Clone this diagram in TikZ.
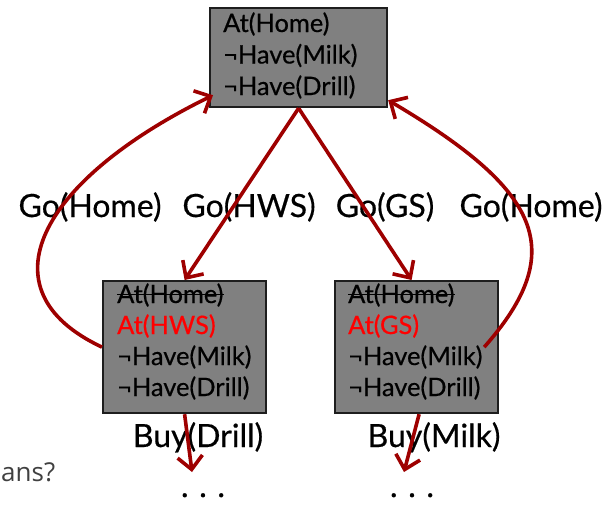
\documentclass[tikz,border=0pt]{standalone}
\usepackage{fontspec}
\setmainfont{Lato}[FakeBold=0.5]
\newfontfamily\notefont{Open Sans}
\usetikzlibrary{arrows.meta,calc}

\definecolor{actred}{RGB}{158,0,0}
\definecolor{boxgray}{RGB}{128,128,128}
\definecolor{boxedge}{RGB}{30,30,30}
\definecolor{notegray}{RGB}{64,64,64}

\tikzset{
  state/.style={draw=boxedge, line width=2.2pt, fill=boxgray, inner sep=0pt,
                anchor=north west},
  fact/.style={anchor=base west, inner sep=0pt, font=\fontsize{25.4}{28}\selectfont},
  actlabel/.style={anchor=base, inner sep=0pt, font=\fontsize{32}{36}\selectfont},
  act/.style={draw=actred, line width=3.6pt,
              -{Straight Barb[length=13pt,width=25pt,line width=3.6pt]}},
  strike/.style={draw=black, line width=1.5pt},
}

\begin{document}
\begin{tikzpicture}[x=1pt,y=-1pt]
\useasboundingbox (0,0) rectangle (609,504);

% states
\node[state, minimum width=177pt, minimum height=99pt] (top) at (209,7) {};
\node[state, minimum width=163pt, minimum height=132pt] (lbox) at (102,280) {};
\node[state, minimum width=163pt, minimum height=132pt] (rbox) at (334,280) {};

% initial state facts
\node[fact] (t1) at (223,32) {At(Home)};
\node[fact] (t2) at (223,63.5) {¬Have(Milk)};
\node[fact] (t3) at (223,95) {¬Have(Drill)};

% state after Go(HWS)
\node[fact] (l1) at (117,303) {At(Home)};
\node[fact, text=red] (l2) at (117,334) {At(HWS)};
\node[fact] (l3) at (117,365) {¬Have(Milk)};
\node[fact] (l4) at (117,396) {¬Have(Drill)};

% state after Go(GS)
\node[fact] (r1) at (348,303) {At(Home)};
\node[fact, text=red] (r2) at (348,334) {At(GS)};
\node[fact] (r3) at (348,365) {¬Have(Milk)};
\node[fact] (r4) at (348,396) {¬Have(Drill)};

% deleted facts are struck out
\draw[strike] ($(l1.base west)+(0,-8.5)$) -- ($(l1.base east)+(0,-8.5)$);
\draw[strike] ($(r1.base west)+(0,-8.5)$) -- ($(r1.base east)+(0,-8.5)$);

% action labels
\node[actlabel] (gh1) at (90,217) {Go(Home)};
\node[actlabel] (ghws) at (249,217) {Go(HWS)};
\node[actlabel] (ggs) at (385,217) {Go(GS)};
\node[actlabel] (gh2) at (531,217) {Go(Home)};
\node[actlabel] (bd) at (198,447) {Buy(Drill)};
\node[actlabel] (bm) at (434,447) {Buy(Milk)};

\node[actlabel] (e1) at (203,497) {.\,\,.\,\,.};
\node[actlabel] (e2) at (412,497) {.\,\,.\,\,.};

\node[anchor=base west, inner sep=0pt, text=notegray,
      font=\notefont\fontsize{26}{30}\selectfont] (q) at (1,481) {ans?};

% actions
\coordinate (dd) at (192,472);
\coordinate (dm) at (404,472);
\draw[act] (top.south) -- (lbox.north);
\draw[act] (top.south) -- ($(rbox.north)+(-5,0)$);
\draw[act] (lbox.west) .. controls (-20,290) and (40,180) .. ($(top.south west)+(4,-13)$);
\draw[act] ($(rbox.east)+(-15,0)$) .. controls (570,250) and (540,190) .. ($(top.south east)+(0,-8)$);
\draw[act] (lbox.south) -- (dd);
\draw[act] ($(rbox.south)+(2.5,0)$) -- (dm);
\end{tikzpicture}
\end{document}
